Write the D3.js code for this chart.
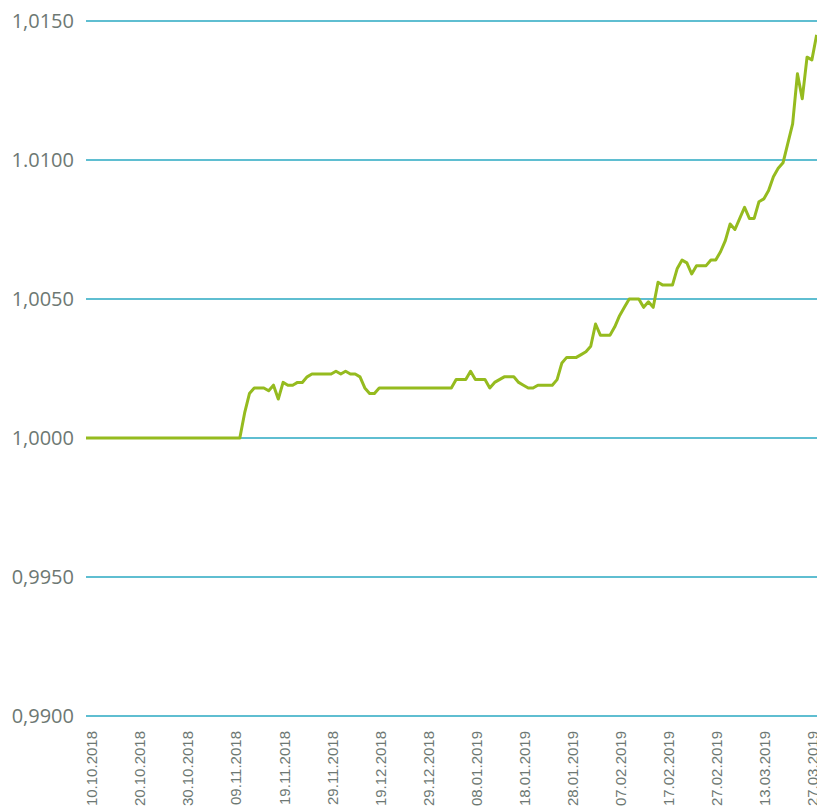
<!DOCTYPE html>
<html>
<head>
<meta charset="utf-8">
<script src="https://cdn.jsdelivr.net/npm/d3@7"></script>
<style>
  html, body { margin: 0; padding: 0; background: #fff; }
  svg { display: block; }
</style>
</head>
<body>
<svg id="chart" width="817" height="809"></svg>
<script>
// Daily index values, one per trading day
const values = [
  1.0000, 1.0000, 1.0000, 1.0000, 1.0000, 1.0000, 1.0000, 1.0000, 1.0000, 1.0000,
  1.0000, 1.0000, 1.0000, 1.0000, 1.0000, 1.0000, 1.0000, 1.0000, 1.0000, 1.0000,
  1.0000, 1.0000, 1.0000, 1.0000, 1.0000, 1.0000, 1.0000, 1.0000, 1.0000, 1.0000,
  1.0000, 1.0000, 1.0000, 1.0009, 1.0016, 1.0018, 1.0018, 1.0018, 1.0017, 1.0019,
  1.0014, 1.0020, 1.0019, 1.0019, 1.0020, 1.0020, 1.0022, 1.0023, 1.0023, 1.0023,
  1.0023, 1.0023, 1.0024, 1.0023, 1.0024, 1.0023, 1.0023, 1.0022, 1.0018, 1.0016,
  1.0016, 1.0018, 1.0018, 1.0018, 1.0018, 1.0018, 1.0018, 1.0018, 1.0018, 1.0018,
  1.0018, 1.0018, 1.0018, 1.0018, 1.0018, 1.0018, 1.0018, 1.0021, 1.0021, 1.0021,
  1.0024, 1.0021, 1.0021, 1.0021, 1.0018, 1.0020, 1.0021, 1.0022, 1.0022, 1.0022,
  1.0020, 1.0019, 1.0018, 1.0018, 1.0019, 1.0019, 1.0019, 1.0019, 1.0021, 1.0027,
  1.0029, 1.0029, 1.0029, 1.0030, 1.0031, 1.0033, 1.0041, 1.0037, 1.0037, 1.0037,
  1.0040, 1.0044, 1.0047, 1.0050, 1.0050, 1.0050, 1.0047, 1.0049, 1.0047, 1.0056,
  1.0055, 1.0055, 1.0055, 1.0061, 1.0064, 1.0063, 1.0059, 1.0062, 1.0062, 1.0062,
  1.0064, 1.0064, 1.0067, 1.0071, 1.0077, 1.0075, 1.0079, 1.0083, 1.0079, 1.0079,
  1.0085, 1.0086, 1.0089, 1.0094, 1.0097, 1.0099, 1.0106, 1.0113, 1.0131, 1.0122,
  1.0137, 1.0136, 1.0145
];

// Date labels shown under every tenth trading day
const dateLabels = [
  "10.10.2018", "20.10.2018", "30.10.2018", "09.11.2018", "19.11.2018",
  "29.11.2018", "19.12.2018", "29.12.2018", "08.01.2019", "18.01.2019",
  "28.01.2019", "07.02.2019", "17.02.2019", "27.02.2019", "13.03.2019",
  "27.03.2019"
];
const labelStep = 10;

// Value axis ticks and their printed labels
const yTicks = [0.9900, 0.9950, 1.0000, 1.0050, 1.0100, 1.0150];
const yTickLabels = ["0,9900", "0,9950", "1,0000", "1,0050", "1.0100", "1,0150"];

const svg = d3.select("#chart");
const W = 817;
const plotLeft = 86, plotTop = 21, plotBottom = 716;
const step = 4.807;

const idx = d3.range(values.length);
const x = d3.scalePoint()
  .domain(idx)
  .range([plotLeft, plotLeft + step * (values.length - 1)]);
const y = d3.scaleLinear()
  .domain([0.9900, 1.0150])
  .range([plotBottom, plotTop]);

// Horizontal gridlines
svg.append("g")
  .selectAll("line")
  .data(yTicks)
  .join("line")
  .attr("x1", plotLeft)
  .attr("x2", W)
  .attr("y1", d => y(d))
  .attr("y2", d => y(d))
  .attr("stroke", "#2aa8c2")
  .attr("stroke-width", 1.5);

// Value labels
svg.append("g")
  .selectAll("text")
  .data(yTicks)
  .join("text")
  .attr("x", 74)
  .attr("y", d => y(d))
  .attr("dy", "0.35em")
  .attr("text-anchor", "end")
  .attr("font-family", "'Open Sans', sans-serif")
  .attr("font-size", 20)
  .attr("fill", "#6d7873")
  .text((d, i) => yTickLabels[i]);

// Rotated date labels
svg.append("g")
  .selectAll("text")
  .data(dateLabels)
  .join("text")
  .attr("transform", (d, i) => `translate(${x(i * labelStep) + 6},731) rotate(-90)`)
  .attr("dy", "0.35em")
  .attr("text-anchor", "end")
  .attr("font-family", "'Liberation Sans', Arial, sans-serif")
  .attr("font-size", 15)
  .attr("fill", "#6d7873")
  .text(d => d);

// Index line
const line = d3.line()
  .x((d, i) => x(i))
  .y(d => y(d));

svg.append("path")
  .datum(values)
  .attr("d", line)
  .attr("fill", "none")
  .attr("stroke", "#95bb1f")
  .attr("stroke-width", 3)
  .attr("stroke-linejoin", "round");
</script>
</body>
</html>
